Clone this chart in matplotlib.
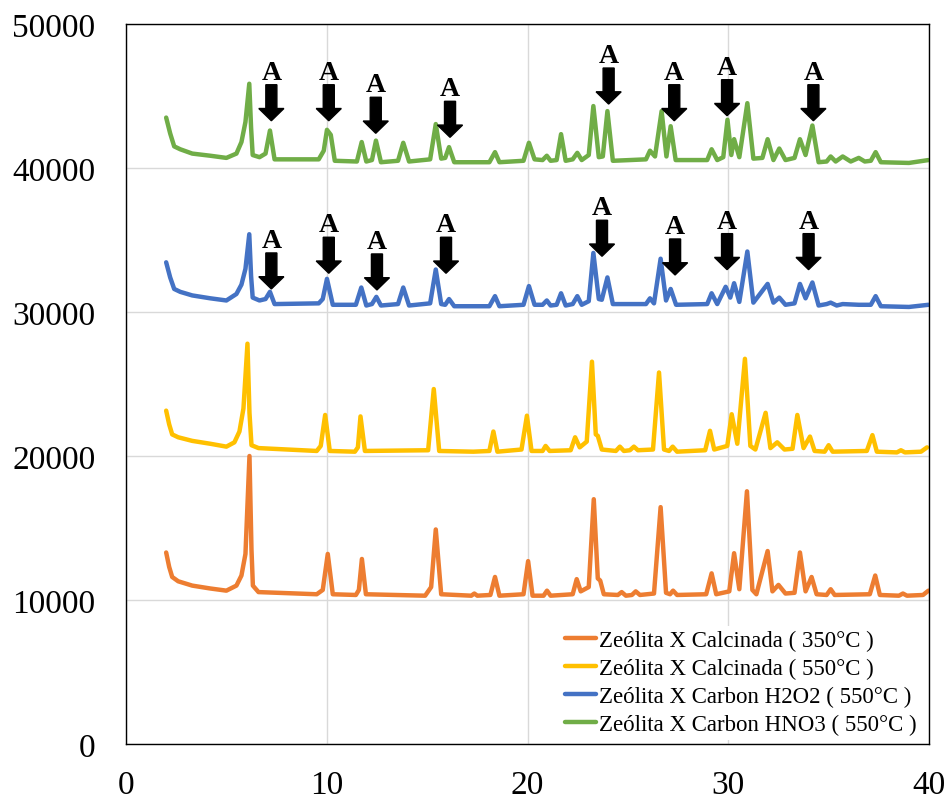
import matplotlib
matplotlib.use("Agg")
import matplotlib.pyplot as plt

# XRD patterns (2theta, counts)
orange_2theta = [2.0, 2.15, 2.3, 2.6, 3.3, 4.2, 5.0, 5.5, 5.75, 5.95, 6.15, 6.25, 6.32, 6.6, 9.5, 9.8, 10.05,
                 10.3, 11.45, 11.6, 11.75, 11.95, 14.9, 15.2, 15.43, 15.7, 17.2, 17.35, 17.5, 18.15, 18.38,
                 18.6, 19.8, 20.03, 20.25, 20.8, 20.97, 21.15, 22.25, 22.45, 22.65, 23.05, 23.3, 23.5, 23.62,
                 23.8, 24.5, 24.69, 24.9, 25.2, 25.39, 25.6, 26.3, 26.63, 26.9, 27.1, 27.25, 27.45, 28.9,
                 29.17, 29.4, 30.05, 30.29, 30.55, 30.93, 31.2, 31.4, 31.96, 32.2, 32.5, 32.85, 33.3, 33.57,
                 33.85, 34.15, 34.4, 34.9, 35.1, 35.3, 37.05, 37.32, 37.55, 38.5, 38.7, 38.9, 39.7, 39.97]
orange_counts = [13300, 12300, 11600, 11300, 11000, 10800, 10650, 11000, 11700, 13200, 20000, 13500, 11000,
                 10550, 10400, 10700, 13200, 10400, 10350, 10700, 12850, 10400, 10300, 10900, 14900, 10400,
                 10300, 10450, 10300, 10350, 11600, 10300, 10400, 12700, 10300, 10300, 10650, 10300, 10400,
                 11450, 10600, 10900, 17000, 11500, 11350, 10400, 10350, 10550, 10300, 10350, 10600, 10350,
                 10450, 16450, 10500, 10400, 10650, 10350, 10400, 11850, 10400, 10600, 13250, 10750, 17550,
                 10700, 10400, 13400, 10600, 11050, 10450, 10500, 13300, 10600, 11600, 10400, 10350, 10750,
                 10350, 10400, 11700, 10350, 10300, 10450, 10300, 10350, 10650]

yellow_2theta = [2.0, 2.15, 2.3, 2.6, 3.3, 4.2, 5.0, 5.4, 5.65, 5.85, 6.05, 6.15, 6.25, 6.6, 9.5, 9.7, 9.92,
                 10.15, 11.4, 11.55, 11.68, 11.9, 15.05, 15.33, 15.6, 17.3, 18.1, 18.3, 18.5, 19.7, 19.97,
                 20.2, 20.75, 20.9, 21.1, 22.15, 22.37, 22.6, 22.95, 23.21, 23.4, 23.5, 23.7, 24.4, 24.6,
                 24.8, 25.1, 25.3, 25.5, 26.25, 26.55, 26.8, 27.05, 27.23, 27.45, 28.85, 29.09, 29.3, 29.95,
                 30.17, 30.45, 30.83, 31.1, 31.35, 31.86, 32.1, 32.44, 32.8, 33.2, 33.44, 33.75, 34.07, 34.3,
                 34.8, 35.0, 35.2, 36.9, 37.18, 37.4, 38.4, 38.6, 38.8, 39.6, 39.9]
yellow_counts = [23150, 22200, 21500, 21300, 21050, 20850, 20650, 20950, 21700, 23300, 27800, 23000, 20750,
                 20550, 20350, 20700, 22850, 20350, 20300, 20600, 22750, 20350, 20400, 24650, 20350, 20300,
                 20350, 21700, 20300, 20450, 22800, 20350, 20350, 20700, 20350, 20400, 21300, 20600, 21000,
                 26550, 21500, 21400, 20450, 20350, 20650, 20350, 20400, 20650, 20400, 20450, 25800, 20450,
                 20350, 20650, 20300, 20400, 21750, 20450, 20700, 22900, 20850, 26750, 20700, 20450, 23000,
                 20550, 20950, 20450, 20500, 22850, 20550, 21350, 20350, 20300, 20750, 20300, 20350, 21450,
                 20300, 20250, 20400, 20250, 20300, 20600]

blue_2theta = [2.0, 2.2, 2.4, 2.7, 3.3, 4.2, 5.0, 5.5, 5.75, 5.95, 6.14, 6.23, 6.31, 6.65, 6.95, 7.17, 7.4,
               9.6, 9.8, 10.01, 10.3, 11.45, 11.72, 11.97, 12.25, 12.47, 12.7, 13.55, 13.81, 14.1, 15.15,
               15.43, 15.7, 15.9, 16.09, 16.35, 18.1, 18.38, 18.6, 19.8, 20.07, 20.35, 20.75, 20.96, 21.15,
               21.45, 21.67, 21.9, 22.25, 22.48, 22.7, 23.05, 23.28, 23.55, 23.7, 23.98, 24.25, 25.1, 25.9,
               26.1, 26.3, 26.63, 26.9, 27.13, 27.4, 28.95, 29.17, 29.45, 29.87, 30.1, 30.29, 30.55, 30.95,
               31.25, 31.96, 32.25, 32.54, 32.85, 33.3, 33.57, 33.85, 34.19, 34.5, 34.9, 35.1, 35.4, 35.7,
               36.5, 37.1, 37.34, 37.6, 39.0, 39.97]
blue_counts = [33450, 32400, 31600, 31400, 31150, 30950, 30800, 31250, 31900, 33000, 35400, 32500, 31000,
               30800, 30900, 31400, 30550, 30600, 30900, 32300, 30500, 30500, 31700, 30450, 30550, 31050,
               30450, 30550, 31700, 30450, 30600, 32950, 30550, 30500, 30900, 30400, 30400, 31100, 30400,
               30500, 31800, 30500, 30500, 30800, 30450, 30500, 31300, 30450, 30550, 31100, 30500, 30750,
               34100, 30900, 30850, 32400, 30550, 30550, 30550, 30950, 30600, 33700, 30800, 31600, 30500,
               30550, 31300, 30550, 31750, 31000, 32000, 30700, 34200, 30650, 31950, 30650, 31000, 30500,
               30600, 31950, 30950, 32050, 30450, 30550, 30650, 30450, 30550, 30500, 30500, 31100, 30400,
               30350, 30500]

green_2theta = [2.0, 2.2, 2.4, 2.7, 3.3, 4.2, 5.0, 5.5, 5.75, 5.95, 6.14, 6.23, 6.31, 6.65, 6.95, 7.17, 7.4,
                9.6, 9.85, 10.01, 10.2, 10.4, 11.5, 11.74, 11.97, 12.25, 12.45, 12.7, 13.55, 13.81, 14.1,
                15.15, 15.43, 15.7, 15.9, 16.09, 16.35, 18.1, 18.38, 18.6, 19.8, 20.07, 20.35, 20.75, 20.96,
                21.15, 21.45, 21.67, 21.9, 22.25, 22.48, 22.7, 23.05, 23.28, 23.55, 23.75, 23.98, 24.25,
                25.1, 25.9, 26.1, 26.35, 26.68, 26.92, 27.13, 27.38, 28.95, 29.17, 29.45, 29.75, 29.96,
                30.15, 30.29, 30.55, 30.95, 31.25, 31.7, 31.96, 32.25, 32.54, 32.85, 33.3, 33.57, 33.85,
                34.19, 34.5, 34.9, 35.1, 35.35, 35.7, 36.1, 36.5, 36.8, 37.1, 37.34, 37.6, 39.0, 39.97]
green_counts = [43500, 42400, 41500, 41300, 41000, 40850, 40700, 41000, 41800, 43200, 45850, 42800, 40900,
                40750, 41000, 42600, 40600, 40600, 41200, 42650, 42300, 40500, 40450, 41800, 40450, 40550,
                41900, 40400, 40500, 41750, 40450, 40600, 43050, 40650, 40700, 41450, 40400, 40400, 41100,
                40400, 40500, 41750, 40600, 40550, 40850, 40500, 40550, 42350, 40500, 40600, 41050, 40550,
                40900, 44300, 40750, 40800, 43950, 40500, 40550, 40600, 41200, 40800, 43950, 40800, 42900,
                40550, 40550, 41300, 40550, 40750, 43350, 40900, 42000, 40750, 44500, 40650, 40700, 42000,
                40550, 41350, 40550, 40700, 42000, 40900, 42950, 40400, 40450, 40800, 40450, 40800, 40450,
                40700, 40450, 40500, 41100, 40400, 40350, 40550]

labels = ["Zeólita X Calcinada ( 350°C )", "Zeólita X Calcinada ( 550°C )",
          "Zeólita X Carbon H2O2 ( 550°C )", "Zeólita X Carbon HNO3 ( 550°C )"]
colors = ["#ED7D31", "#FFC000", "#4472C4", "#70AD47"]

# "A" phase markers: arrow x and tip height
green_arrow_x = [7.24, 10.1, 12.44, 16.14, 24.04, 27.31, 29.94, 34.24]
green_arrow_tip = [43280, 43280, 42410, 42130, 44440, 43280, 43630, 43280]
blue_arrow_x = [7.24, 10.1, 12.5, 15.94, 23.71, 27.35, 29.94, 34.0]
blue_arrow_tip = [31600, 32690, 31530, 32690, 33870, 32570, 32940, 32940]

plt.rcParams['font.family'] = ['Liberation Serif', 'DejaVu Serif']

fig = plt.figure(figsize=(9.51, 8.03), dpi=100)
ax = fig.add_axes([0.1325, 0.0722, 0.8444, 0.8967])

series = [(orange_2theta, orange_counts), (yellow_2theta, yellow_counts),
          (blue_2theta, blue_counts), (green_2theta, green_counts)]
for (xs, ys), lab, col in zip(series, labels, colors):
    ax.plot(xs, ys, color=col, lw=3.2, label=lab, solid_joinstyle='round', solid_capstyle='round')

arrow_len = 2500
for ax_x, tips in [(green_arrow_x, green_arrow_tip), (blue_arrow_x, blue_arrow_tip)]:
    for x, tip in zip(ax_x, tips):
        ax.arrow(x, tip + arrow_len, 0, -arrow_len, width=0.55, head_width=1.25,
                 head_length=850, length_includes_head=True, color='black', zorder=5)
        ax.text(x, tip + arrow_len + 420, "A", ha='center', va='baseline',
                fontsize=20, fontweight='bold', zorder=5)

ax.set_xlim(0, 40)
ax.set_ylim(0, 50000)
ax.set_xticks([0, 10, 20, 30, 40])
ax.set_yticks([0, 10000, 20000, 30000, 40000, 50000])
ax.grid(True, color='#D9D9D9', lw=1)
ax.set_axisbelow(True)
ax.tick_params(length=0, labelsize=24)
ax.tick_params(axis='y', pad=22)
ax.tick_params(axis='x', pad=18)
for sp in ax.spines.values():
    sp.set_color('black')
    sp.set_linewidth(1.0)

leg = ax.legend(loc='lower right', bbox_to_anchor=(0.992, 0.004), fontsize=16.5, frameon=True,
                edgecolor='none', facecolor='white', framealpha=1, handlelength=1.35,
                handletextpad=0.13, labelspacing=0.3, borderpad=0.2, borderaxespad=0.05)

fig.savefig("out.png", dpi=100)
